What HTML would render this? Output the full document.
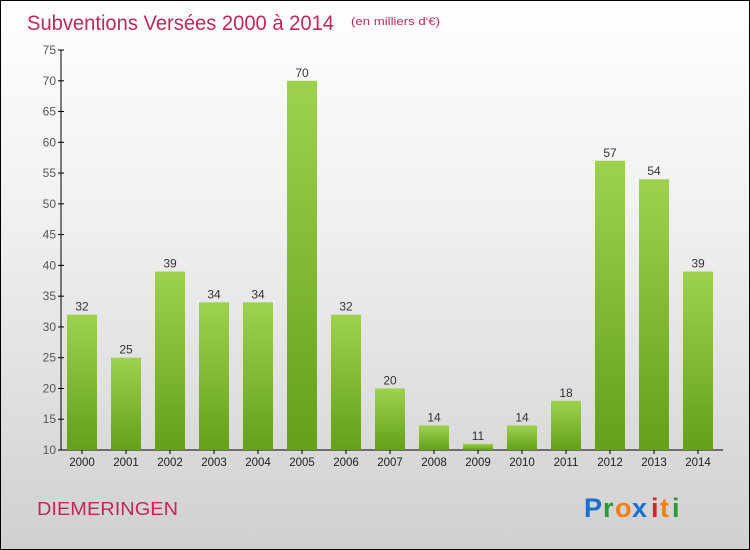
<!DOCTYPE html>
<html><head><meta charset="utf-8"><style>
html,body{margin:0;padding:0}
body{width:750px;height:550px;overflow:hidden;font-family:"Liberation Sans",sans-serif}
#wrap{position:relative;width:748px;height:548px;border:1px solid #000;background:linear-gradient(#ffffff 0%,#f0f0f0 40%,#d0d0d0 100%)}
</style></head><body>
<div id="wrap">
<svg id="svg" width="748" height="548" style="position:absolute;left:0;top:0">
<defs><linearGradient id="bg" x1="0" y1="0" x2="0" y2="1"><stop offset="0" stop-color="#9ed24e"/><stop offset="1" stop-color="#64a01a"/></linearGradient></defs>
<text x="26" y="29" font-size="21" textLength="307" lengthAdjust="spacingAndGlyphs" fill="#c0285a">Subventions Versées 2000 à 2014</text>
<text x="350" y="24" font-size="11" textLength="89" lengthAdjust="spacingAndGlyphs" fill="#c0285a">(en milliers d'€)</text>
<text x="36" y="514" font-size="18" textLength="141" lengthAdjust="spacingAndGlyphs" fill="#c0285a">DIEMERINGEN</text>
<g font-size="27" font-weight="bold">
<text x="583" y="516" fill="#1a6fd0">P</text><text x="602" y="516" fill="#2a9a3a">r</text><text x="614" y="516" fill="#f08010">o</text><text x="631" y="516" fill="#1a6fd0">x</text><text x="650" y="516" fill="#e02020">i</text><text x="659" y="516" fill="#f08010">t</text><text x="671" y="516" fill="#2a9a3a">i</text>
</g>
<g id="plot"></g>
</svg></div>
<script>
const years=["2000","2001","2002","2003","2004","2005","2006","2007","2008","2009","2010","2011","2012","2013","2014"];
const values=[32,25,39,34,34,70,32,20,14,11,14,18,57,54,39];
const yTicks=[10,15,20,25,30,35,40,45,50,55,60,65,70,75];
const NS="http://www.w3.org/2000/svg";
const g=document.getElementById('plot');
function y(v){return 449-(v-10)*400/65;}
function x(i){return 66+i*44;}
function mk(t,a){const e=document.createElementNS(NS,t);for(const k in a)e.setAttribute(k,a[k]);g.appendChild(e);return e;}
let ax=mk('line',{x1:60,y1:y(75),x2:60,y2:449,stroke:'#000'});

let bx=mk('line',{x1:60,y1:449,x2:722,y2:449,stroke:'#000'});

yTicks.forEach(v=>{
 const tk=mk('line',{x1:57,y1:y(v),x2:63,y2:y(v),stroke:'#000'});
 
 const t=mk('text',{x:55,y:y(v)+4,'text-anchor':'end','font-size':12,fill:'#555'});t.textContent=v;
 
});
years.forEach((yr,i)=>{
 const v=values[i];
 const r=mk('rect',{x:x(i),y:y(v),width:30,height:449-y(v),fill:'url(#bg)'});
 
 const l=mk('text',{x:x(i)+15,y:y(v)-4,'text-anchor':'middle','font-size':12,fill:'#333'});l.textContent=v;
 
 const tk=mk('line',{x1:x(i)+15,y1:449,x2:x(i)+15,y2:453,stroke:'#000'});
 
 const t=mk('text',{x:x(i)+15,y:465,'text-anchor':'middle','font-size':11.5,fill:'#222'});t.textContent=yr;
 
});
</script>
</body></html>
